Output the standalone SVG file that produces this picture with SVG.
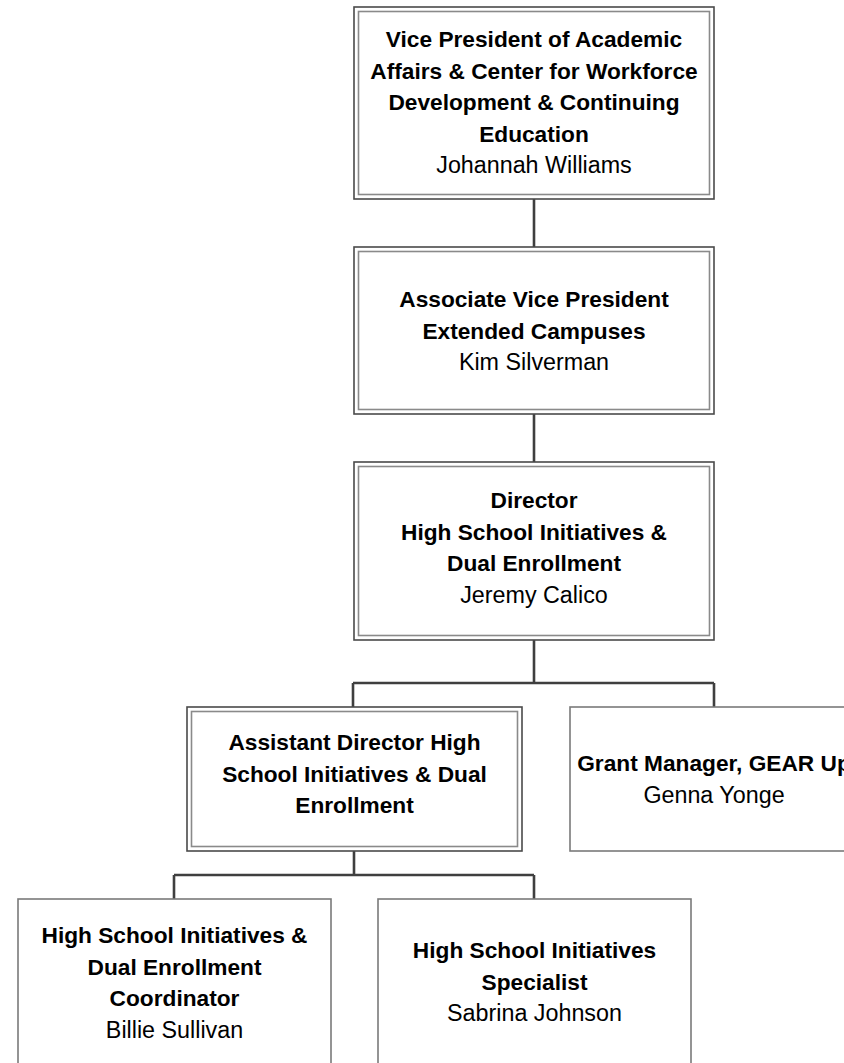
<svg xmlns="http://www.w3.org/2000/svg" width="844" height="1063" viewBox="0 0 844 1063">
<style>
.bg{fill:#fff}
.outer{fill:#fff;stroke:#4a4a4a;stroke-width:1.6}
.inner{fill:none;stroke:#8a8a8a;stroke-width:1.6}
.single{fill:#fff;stroke:#7a7a7a;stroke-width:1.6}
.conn{fill:none;stroke:#3f3f3f;stroke-width:2.6}
.t{font-family:"Liberation Sans",Arial,sans-serif;font-weight:bold;font-size:22.7px;fill:#000;text-anchor:middle}
.n{font-family:"Liberation Sans",Arial,sans-serif;font-size:23.3px;fill:#000;text-anchor:middle}
</style>
<rect class="bg" x="0" y="0" width="844" height="1063"/>
<g id="connectors">
<path class="conn" d="M534 199 V247"/>
<path class="conn" d="M534 414 V462"/>
<path class="conn" d="M534 640 V683 M353 683 H714 M353 683 V707 M714 683 V707"/>
<path class="conn" d="M354 851 V875 M174 875 H534 M174 875 V899 M534 875 V899"/>
</g>
<g id="vp">
<rect class="outer" x="354" y="7" width="360" height="192"/>
<rect class="inner" x="358.5" y="11.5" width="351" height="183"/>
<text class="t" x="534" y="47">Vice President of Academic</text>
<text class="t" x="534" y="78.5">Affairs &amp; Center for Workforce</text>
<text class="t" x="534" y="110">Development &amp; Continuing</text>
<text class="t" x="534" y="141.5">Education</text>
<text class="n" x="534" y="173">Johannah Williams</text>
</g>
<g id="avp">
<rect class="outer" x="354" y="247" width="360" height="167"/>
<rect class="inner" x="358.5" y="251.5" width="351" height="158"/>
<text class="t" x="534" y="307">Associate Vice President</text>
<text class="t" x="534" y="338.5">Extended Campuses</text>
<text class="n" x="534" y="370">Kim Silverman</text>
</g>
<g id="director">
<rect class="outer" x="354" y="462" width="360" height="178"/>
<rect class="inner" x="358.5" y="466.5" width="351" height="169"/>
<text class="t" x="534" y="508">Director</text>
<text class="t" x="534" y="539.5">High School Initiatives &amp;</text>
<text class="t" x="534" y="571">Dual Enrollment</text>
<text class="n" x="534" y="602.5">Jeremy Calico</text>
</g>
<g id="assistant">
<rect class="outer" x="187" y="707" width="335" height="144"/>
<rect class="inner" x="191.5" y="711.5" width="326" height="135"/>
<text class="t" x="354.5" y="750">Assistant Director High</text>
<text class="t" x="354.5" y="781.5">School Initiatives &amp; Dual</text>
<text class="t" x="354.5" y="813">Enrollment</text>
</g>
<g id="grant">
<rect class="single" x="570" y="707" width="288" height="144"/>
<text class="t" x="714" y="771">Grant Manager, GEAR Up</text>
<text class="n" x="714" y="803">Genna Yonge</text>
</g>
<g id="coordinator">
<rect class="single" x="18" y="899" width="313" height="180"/>
<text class="t" x="174.5" y="943">High School Initiatives &amp;</text>
<text class="t" x="174.5" y="974.5">Dual Enrollment</text>
<text class="t" x="174.5" y="1006">Coordinator</text>
<text class="n" x="174.5" y="1037.5">Billie Sullivan</text>
</g>
<g id="specialist">
<rect class="single" x="378" y="899" width="313" height="180"/>
<text class="t" x="534.5" y="958">High School Initiatives</text>
<text class="t" x="534.5" y="989.5">Specialist</text>
<text class="n" x="534.5" y="1021">Sabrina Johnson</text>
</g>
</svg>
